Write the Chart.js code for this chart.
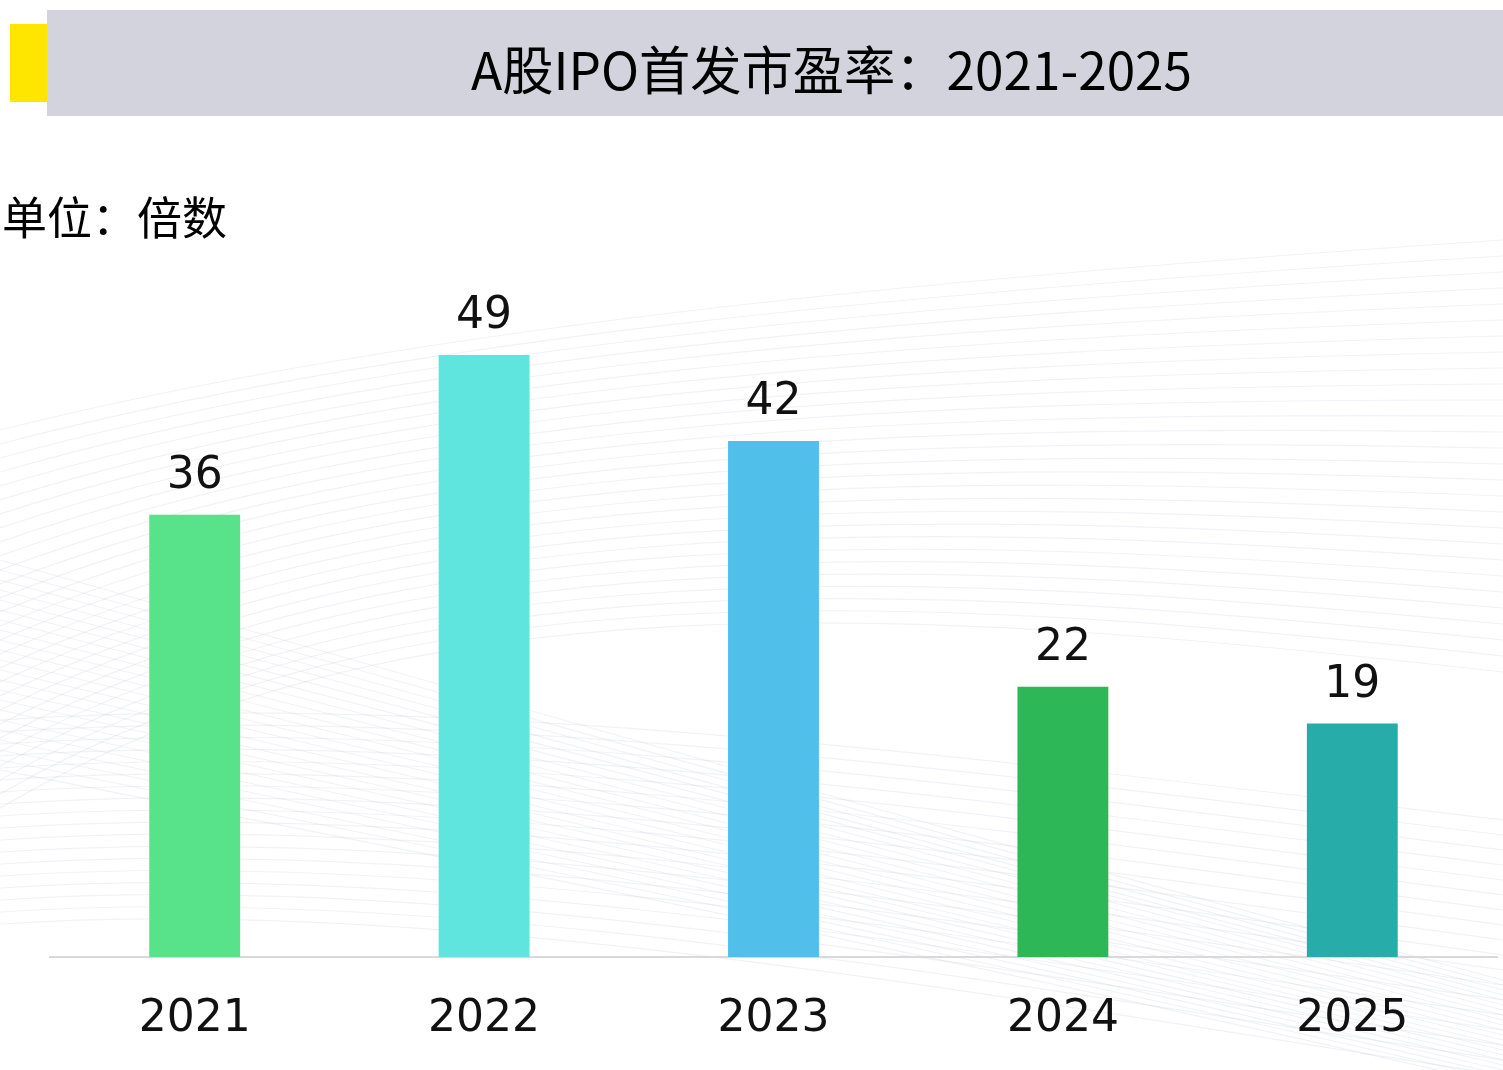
<!DOCTYPE html>
<html>
<head>
<meta charset="utf-8">
<script src="https://cdn.jsdelivr.net/npm/chart.js@4.4.1/dist/chart.umd.min.js"></script>
<style>
    html, body { margin: 0; padding: 0; background: #ffffff; }
    #page { position: relative; width: 1503px; height: 1070px; overflow: hidden; }
    #chart-wrap { position: absolute; left: 0; top: 0; width: 1503px; height: 1070px; }
    .header-band { position: absolute; left: 47px; top: 10px; width: 1456px; height: 106px; background: #d2d3dc; z-index: 2; }
    .header-mark { position: absolute; left: 10px; top: 24px; width: 37px; height: 78px; background: #ffe600; z-index: 2; }
    #title { position: absolute; left: 471px; top: 42px; font-family: "Noto Sans CJK SC", sans-serif; font-size: 52px; line-height: 52px; font-weight: 400; color: #000; white-space: nowrap; transform-origin: 0 0; z-index: 3; }
    #unit { position: absolute; left: 2px; top: 193px; font-family: "Noto Sans CJK SC", sans-serif; font-size: 45px; line-height: 45px; color: #000; white-space: nowrap; z-index: 3; }
</style>
</head>
<body>
<div id="page">
    <div id="chart-wrap"><canvas id="pe-chart" width="1503" height="1070"></canvas></div>
    <div class="header-mark"></div>
    <div class="header-band"></div>
    <div id="title">A股IPO首发市盈率：2021-2025</div>
    <div id="unit">单位：倍数</div>
</div>
<script>
// A股IPO首发市盈率 (倍数)
const years = ['2021', '2022', '2023', '2024', '2025'];
const peValues = [36, 49, 42, 22, 19];
const barColors = ['#58e28a', '#5fe4de', '#50bfea', '#2eb757', '#28acaa'];

const numberFont = '"DejaVu Sans", Verdana, sans-serif';

// squeeze the title to the width it has in the slide
(function fitTitle() {
    const el = document.getElementById('title');
    const w = el.getBoundingClientRect().width;
    el.style.transform = 'scaleX(' + (721 / w) + ')';
})();

// faint wave texture behind the chart
const waveBackground = {
    id: 'waveBackground',
    beforeDraw(chart) {
        const ctx = chart.ctx;
        ctx.save();
        ctx.lineWidth = 1.2;
        ctx.strokeStyle = 'rgba(185, 190, 210, 0.2)';
        for (let i = 0; i < 28; i++) {
            ctx.beginPath();
            ctx.moveTo(0, 430 + i * 14);
            ctx.bezierCurveTo(400, 330 + i * 9, 900, 280 + i * 12, 1503, 240 + i * 16);
            ctx.stroke();
        }
        for (let i = 0; i < 22; i++) {
            ctx.beginPath();
            ctx.moveTo(0, 560 + i * 10);
            ctx.bezierCurveTo(500, 700 + i * 8, 900, 820 + i * 6, 1503, 980 + i * 5);
            ctx.stroke();
        }
        for (let i = 0; i < 18; i++) {
            ctx.beginPath();
            ctx.moveTo(0, 720 + i * 12);
            ctx.bezierCurveTo(450, 690 + i * 12, 1000, 760 + i * 14, 1503, 820 + i * 15);
            ctx.stroke();
        }
        ctx.restore();
    }
};

// value labels above each bar
const barValueLabels = {
    id: 'barValueLabels',
    afterDatasetsDraw(chart) {
        const ctx = chart.ctx;
        const meta = chart.getDatasetMeta(0);
        ctx.save();
        ctx.font = '44px ' + numberFont;
        ctx.fillStyle = '#111111';
        ctx.textAlign = 'center';
        ctx.textBaseline = 'alphabetic';
        meta.data.forEach(function(bar, i) {
            ctx.fillText(String(peValues[i]), bar.x, bar.y - 27);
        });
        ctx.restore();
    }
};

document.addEventListener('DOMContentLoaded', function() {
    const ctx = document.getElementById('pe-chart');

    new Chart(ctx, {
        type: 'bar',
        data: {
            labels: years,
            datasets: [{
                label: '首发市盈率',
                data: peValues,
                backgroundColor: barColors,
                borderWidth: 0,
                barPercentage: 0.314,
                categoryPercentage: 1.0
            }]
        },
        options: {
            responsive: false,
            animation: false,
            layout: {
                padding: { left: 50, right: 6, top: 220, bottom: 0 }
            },
            scales: {
                x: {
                    grid: { display: false, drawTicks: false },
                    border: { display: true, color: '#d9d9d9', width: 2 },
                    ticks: {
                        color: '#111111',
                        padding: 36,
                        font: { family: numberFont, size: 44 }
                    },
                    afterFit: function(scale) {
                        scale.height = 113;
                    }
                },
                y: {
                    display: false,
                    min: 0,
                    max: 60
                }
            },
            plugins: {
                legend: { display: false },
                tooltip: { enabled: false }
            }
        },
        plugins: [waveBackground, barValueLabels]
    });
});
</script>
</body>
</html>
